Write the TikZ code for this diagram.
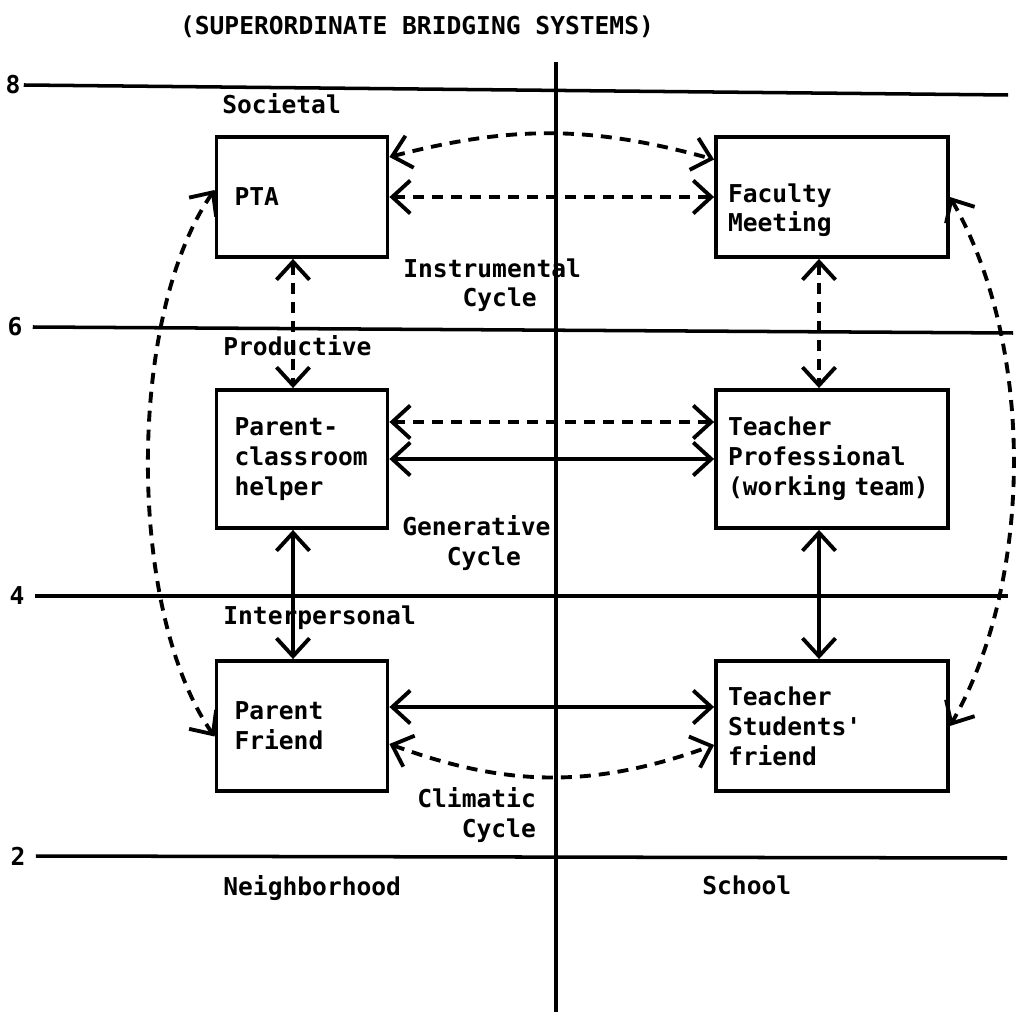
\documentclass[tikz,border=0pt]{standalone}
\usepackage{fontspec}
\setmonofont{DejaVu Sans Mono}
\usetikzlibrary{arrows.meta, positioning, calc}
\tikzset{
    typed/.style={font=\ttfamily\bfseries\fontsize{14}{17}\selectfont},
    unitbox/.style={draw, rectangle, line width=2.2pt, typed, align=left, inner ysep=0pt},
    parentbox/.style={unitbox, text width=2.7cm, inner xsep=0.36cm},
    schoolbox/.style={unitbox, text width=4.16cm, inner xsep=0.24cm},
    levelline/.style={line width=2pt},
    levelnum/.style={typed, inner sep=0pt},
    note/.style={typed, inner sep=0pt, anchor=north west, align=left},
    solidarrow/.style={{Straight Barb[length=0.36cm,width=0.66cm]}-{Straight Barb[length=0.36cm,width=0.66cm]}, line width=2.2pt},
    dashedarrow/.style={solidarrow, dash pattern=on 0.22cm off 0.16cm},
}
\begin{document}
\begin{tikzpicture}[x=0.02cm, y=-0.02cm]
\useasboundingbox (0,0) rectangle (1017,1016);

% title
\node[typed] (title) at (417,27) {(SUPERORDINATE BRIDGING SYSTEMS)};

% level scale and the two sides
\node[levelnum] (n8) at (13,85) {8};
\node[levelnum] (n6) at (15,327) {6};
\node[levelnum] (n4) at (17,596) {4};
\node[levelnum] (n2) at (18,856) {2};
\coordinate (r8) at (1008,95);
\coordinate (r6) at (1013,333);
\coordinate (r4) at (1008,596);
\coordinate (r2) at (1007,858);
\draw[levelline] ([xshift=0.06cm]n8.east) -- (r8);
\draw[levelline] ([xshift=0.2cm]n6.east) -- (r6);
\draw[levelline] ([xshift=0.2cm]n4.east) -- (r4);
\draw[levelline] ([xshift=0.2cm]n2.east) -- (r2);
\coordinate (vtop) at (556,62);
\coordinate (vbot) at (556,1012);
\draw[levelline] (vtop) -- (vbot);

% level names
\node[note] (societal) at (222,93) {Societal};
\node[note] (productive) at (223,335) {Productive};
\node[note] (interpersonal) at (223,605) {Interpersonal};
\node[note] (neighborhood) at (223,875) {Neighborhood};
\node[note] (school) at (702,875) {School};

% cycles
\node[note] (instrumental) at (403,258) {Instrumental\\\phantom{Inst}Cycle};
\node[note] (generative) at (402,515) {Generative\\\phantom{Gen}Cycle};
\node[note] (climatic) at (417,787) {Climatic\\\phantom{Cli}Cycle};

% systems
\node[parentbox, minimum height=2.4cm] (pta) at (302,197) {PTA};
\node[schoolbox, minimum height=2.4cm] (faculty) at (832,197) {\rule{0pt}{0.9cm}Faculty\\Meeting};
\node[parentbox, minimum height=2.76cm] (helper) at (302,459) {Parent-\\classroom\\helper};
\node[schoolbox, minimum height=2.76cm] (professional) at (832,459) {Teacher\\Professional\\(working team)};
\node[parentbox, minimum height=2.6cm] (pfriend) at (302,726) {Parent\\Friend};
\node[schoolbox, minimum height=2.6cm] (sfriend) at (832,726) {Teacher\\Students'\\friend};

% instrumental links
\draw[dashedarrow] ([yshift=0.8cm]pta.east) to[bend left=15] ([yshift=0.75cm]faculty.west);
\draw[dashedarrow] (pta.east) -- (pta.east -| faculty.west);
\draw[dashedarrow] ([xshift=-0.18cm]pta.south) -- ([xshift=-0.18cm]pta.south |- helper.north);
\draw[dashedarrow] ([xshift=-0.26cm]faculty.south) -- ([xshift=-0.26cm]faculty.south |- professional.north);

% generative links
\draw[dashedarrow] ([yshift=0.74cm]helper.east) -- ([yshift=0.74cm]helper.east -| professional.west);
\draw[solidarrow] (helper.east) -- (helper.east -| professional.west);
\draw[solidarrow] ([xshift=-0.18cm]helper.south) -- ([xshift=-0.18cm]helper.south |- pfriend.north);
\draw[solidarrow] ([xshift=-0.26cm]professional.south) -- ([xshift=-0.26cm]professional.south |- sfriend.north);

% climatic links
\draw[solidarrow] ([yshift=0.38cm]pfriend.east) -- ([yshift=0.38cm]pfriend.east -| sfriend.west);
\draw[dashedarrow] ([yshift=-0.36cm]pfriend.east) to[bend right=20] ([yshift=-0.38cm]sfriend.west);

% outer arcs
\draw[dashedarrow] ([yshift=0.14cm]pta.west) to[out=235, in=125, looseness=0.72] ([yshift=-0.21cm]pfriend.west);
\draw[dashedarrow] (faculty.east) to[out=-60, in=60, looseness=0.82] (sfriend.east);
\end{tikzpicture}
\end{document}
